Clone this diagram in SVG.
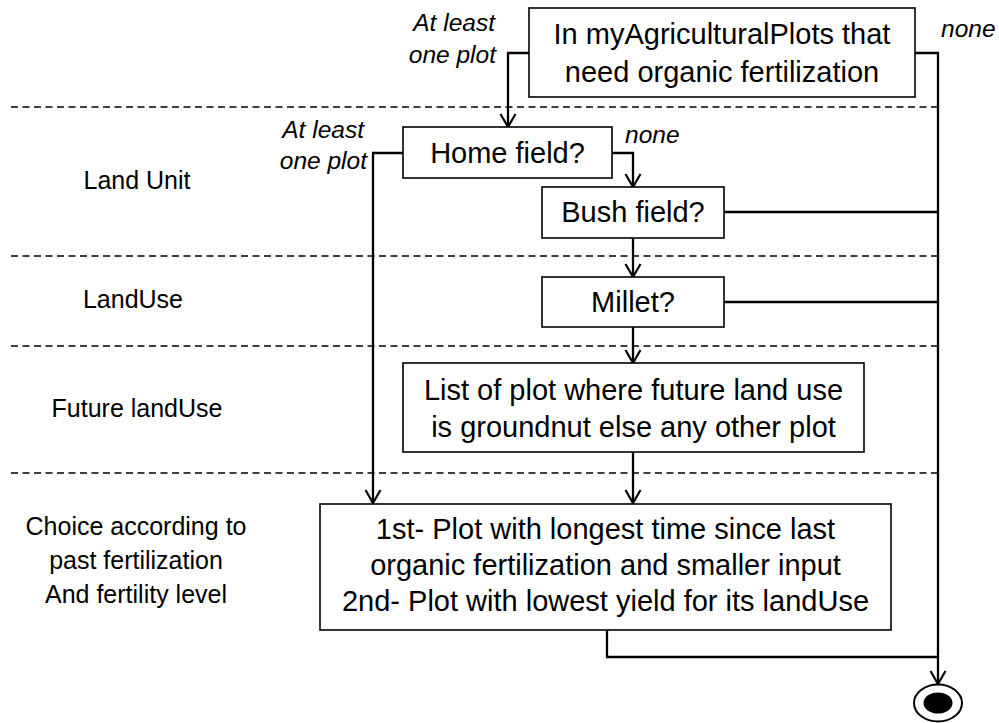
<svg xmlns="http://www.w3.org/2000/svg" width="999" height="723" viewBox="0 0 999 723">
<style>
.box{fill:#fff;stroke:#000;stroke-width:1.6}
.t{font-family:"Liberation Sans",Arial,sans-serif;font-size:29px;fill:#000;text-anchor:middle}
.lbl{font-family:"Liberation Sans",Arial,sans-serif;font-size:25px;fill:#000;text-anchor:middle}
.it{font-family:"Liberation Sans",Arial,sans-serif;font-size:24.5px;font-style:italic;fill:#000}
.dash{stroke:#000;stroke-width:1.4;stroke-dasharray:7 4.5;fill:none}
.c{fill:none;stroke:#000;stroke-width:2.3}
</style>
<defs>
<marker id="arr" viewBox="0 0 16 18" refX="14" refY="9" markerWidth="16" markerHeight="18" orient="auto" markerUnits="userSpaceOnUse">
<path d="M1,1.5 L14,9 L1,16.5" fill="none" stroke="#000" stroke-width="2.2"/>
</marker>
</defs>
<g id="lanes">
<line class="dash" x1="11" y1="107" x2="938" y2="107"/>
<line class="dash" x1="11" y1="256" x2="938" y2="256"/>
<line class="dash" x1="11" y1="346" x2="938" y2="346"/>
<line class="dash" x1="11" y1="473" x2="938" y2="473"/>
<text class="lbl" x="137" y="189">Land Unit</text>
<text class="lbl" x="133" y="308">LandUse</text>
<text class="lbl" x="137" y="417">Future landUse</text>
<text class="lbl" x="136" y="535">Choice according to</text>
<text class="lbl" x="136" y="569">past fertilization</text>
<text class="lbl" x="136" y="603">And fertility level</text>
</g>
<g id="connectors">
<polyline class="c" points="529,53 508,53 508,127" marker-end="url(#arr)"/>
<polyline class="c" points="915,53 938,53 938,684" marker-end="url(#arr)"/>
<polyline class="c" points="403,153 373,153 373,503" marker-end="url(#arr)"/>
<polyline class="c" points="612,153 633,153 633,187" marker-end="url(#arr)"/>
<polyline class="c" points="724,212 938,212"/>
<polyline class="c" points="633,238 633,277" marker-end="url(#arr)"/>
<polyline class="c" points="724,302 938,302"/>
<polyline class="c" points="633,327 633,363" marker-end="url(#arr)"/>
<polyline class="c" points="633,452 633,503" marker-end="url(#arr)"/>
<polyline class="c" points="607,630 607,657 938,657"/>
<text class="it" x="495" y="31" text-anchor="end">At least</text>
<text class="it" x="496" y="63" text-anchor="end">one plot</text>
<text class="it" x="941" y="37">none</text>
<text class="it" x="364" y="138" text-anchor="end">At least</text>
<text class="it" x="367" y="169" text-anchor="end">one plot</text>
<text class="it" x="625" y="143">none</text>
</g>
<g id="start">
<rect class="box" x="529" y="8" width="386" height="89"/>
<text class="t" x="722" y="44">In myAgriculturalPlots that</text>
<text class="t" x="722" y="82">need organic fertilization</text>
</g>
<g id="home">
<rect class="box" x="403" y="127" width="209" height="51"/>
<text class="t" x="507.5" y="163">Home field?</text>
</g>
<g id="bush">
<rect class="box" x="542" y="187" width="182" height="51"/>
<text class="t" x="633" y="222">Bush field?</text>
</g>
<g id="millet">
<rect class="box" x="542" y="277" width="182" height="50"/>
<text class="t" x="633" y="312">Millet?</text>
</g>
<g id="list">
<rect class="box" x="403" y="363" width="461" height="89"/>
<text class="t" x="633.5" y="400">List of plot where future land use</text>
<text class="t" x="633.5" y="437">is groundnut else any other plot</text>
</g>
<g id="choice">
<rect class="box" x="320" y="504" width="571" height="126"/>
<text class="t" x="605.5" y="539">1st- Plot with longest time since last</text>
<text class="t" x="605.5" y="575">organic fertilization and smaller input</text>
<text class="t" x="605.5" y="611">2nd- Plot with lowest yield for its landUse</text>
</g>
<g id="end">
<ellipse cx="938" cy="703" rx="24" ry="18.5" fill="#fff" stroke="#000" stroke-width="2"/>
<ellipse cx="938" cy="703" rx="14.5" ry="10.5" fill="#000"/>
</g>
</svg>
